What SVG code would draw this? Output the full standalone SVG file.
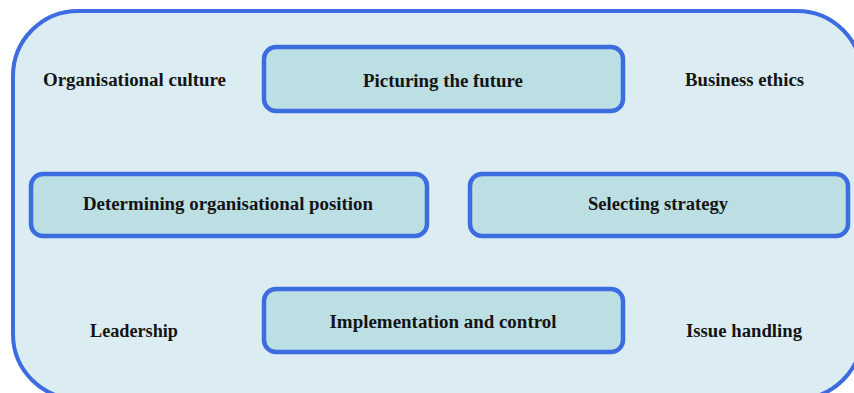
<svg xmlns="http://www.w3.org/2000/svg" width="854" height="393" viewBox="0 0 854 393">
  <style>
    .frame { fill: #dbedf2; stroke: #3d6be0; stroke-width: 4; }
    .box { fill: #bcdfe4; stroke: #3d6be0; stroke-width: 4.5; }
    .label { font-family: "Liberation Serif", "Times New Roman", serif; font-weight: bold; font-size: 18px; fill: #141414; text-anchor: middle; }
  </style>
  <rect width="854" height="393" fill="#ffffff"/>

  <!-- outer frame, its right and lower edges run past the canvas -->
  <rect id="frame" class="frame" x="13" y="11" width="849" height="388" rx="65" ry="65"/>

  <g id="connectors"></g>

  <g id="organisational-culture">
    <text class="label" x="134.5" y="86" textLength="183" lengthAdjust="spacingAndGlyphs">Organisational culture</text>
  </g>
  <g id="picturing-the-future">
    <rect class="box" x="264" y="47" width="359" height="64" rx="12" ry="12"/>
    <text class="label" x="443" y="87" textLength="160" lengthAdjust="spacingAndGlyphs">Picturing the future</text>
  </g>
  <g id="business-ethics">
    <text class="label" x="744.5" y="86" textLength="119" lengthAdjust="spacingAndGlyphs">Business ethics</text>
  </g>
  <g id="determining-position">
    <rect class="box" x="31" y="174" width="396" height="62" rx="12" ry="12"/>
    <text class="label" x="228" y="210" textLength="290" lengthAdjust="spacingAndGlyphs">Determining organisational position</text>
  </g>
  <g id="selecting-strategy">
    <rect class="box" x="470" y="174" width="378" height="62" rx="12" ry="12"/>
    <text class="label" x="658" y="210" textLength="140" lengthAdjust="spacingAndGlyphs">Selecting strategy</text>
  </g>
  <g id="leadership">
    <text class="label" x="134" y="337" textLength="88" lengthAdjust="spacingAndGlyphs">Leadership</text>
  </g>
  <g id="implementation-and-control">
    <rect class="box" x="264" y="289" width="359" height="63" rx="12" ry="12"/>
    <text class="label" x="443" y="328" textLength="227" lengthAdjust="spacingAndGlyphs">Implementation and control</text>
  </g>
  <g id="issue-handling">
    <text class="label" x="744" y="337" textLength="116" lengthAdjust="spacingAndGlyphs">Issue handling</text>
  </g>
</svg>
